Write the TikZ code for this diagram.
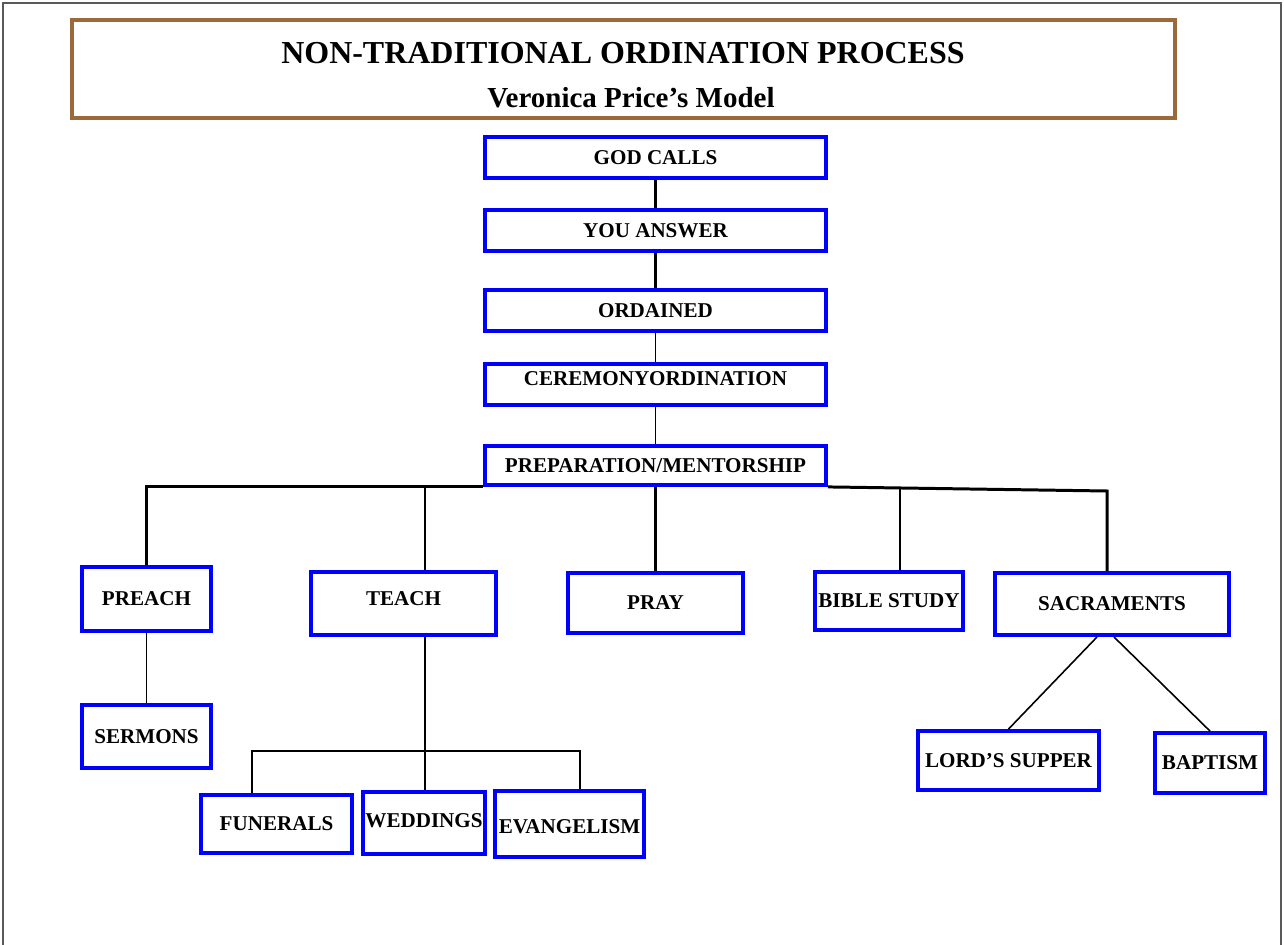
\documentclass[tikz,border=0pt]{standalone}
\usepackage{fontspec}
\setmainfont{Liberation Serif}
\begin{document}
\begin{tikzpicture}[
    x=0.02cm, y=-0.02cm,
    stagebox/.style={rectangle, draw=blue, line width=2.2pt, inner sep=0pt, text height=7.9pt, text depth=0pt, font=\bfseries\fontsize{12}{14}\selectfont},
    frametitle/.style={rectangle, draw={rgb,255:red,156;green,106;blue,58}, line width=2.3pt, inner sep=0pt},
    link/.style={draw=black, line width=0.9pt},
    boldlink/.style={draw=black, line width=1.7pt}
]
\useasboundingbox (0,0) rectangle (1284,945);

% Page frame
\draw[gray!70!black, line width=0.9pt] (3,945) -- (3,3) -- (1281,3) -- (1281,945);

% Heading
\node[frametitle, minimum width=22.06cm, minimum height=1.96cm] (head) at (623.5,69) {};
\node[font=\bfseries\fontsize{18.2}{20}\selectfont, inner sep=0pt] (headtitle) at (623,53) {NON-TRADITIONAL ORDINATION PROCESS};
\node[font=\bfseries\fontsize{16.5}{18}\selectfont, inner sep=0pt] (headsub) at (631,98) {Veronica Price’s Model};

% Main column
\node[stagebox, minimum width=6.82cm, minimum height=0.82cm] (god) at (655.5,157.5) {GOD CALLS};
\node[stagebox, minimum width=6.82cm, minimum height=0.82cm] (answer) at (655.5,230.5) {YOU ANSWER};
\node[stagebox, minimum width=6.82cm, minimum height=0.82cm] (ordained) at (655.5,310.5) {ORDAINED};
\node[stagebox, minimum width=6.82cm, minimum height=0.82cm, text depth=7pt] (ceremony) at (655.5,384.5) {CEREMONYORDINATION};
\node[stagebox, minimum width=6.82cm, minimum height=0.78cm] (prep) at (655.5,465.5) {PREPARATION/MENTORSHIP};

% Ministries
\node[stagebox, minimum width=2.58cm, minimum height=1.28cm] (preach) at (146.5,599) {PREACH};
\node[stagebox, minimum width=3.70cm, minimum height=1.26cm, text depth=6pt] (teach) at (403.5,603.5) {TEACH};
\node[stagebox, minimum width=3.50cm, minimum height=1.20cm] (pray) at (655.5,603) {PRAY};
\node[stagebox, minimum width=2.96cm, minimum height=1.16cm] (bible) at (889,601) {BIBLE STUDY};
\node[stagebox, minimum width=4.68cm, minimum height=1.24cm] (sacraments) at (1112,604) {SACRAMENTS};

% Sub-ministries
\node[stagebox, minimum width=2.58cm, minimum height=1.26cm] (sermons) at (146.5,736.5) {SERMONS};
\node[stagebox, minimum width=3.02cm, minimum height=1.16cm] (funerals) at (276.5,824) {FUNERALS};
\node[stagebox, minimum width=2.44cm, minimum height=1.24cm, text depth=3pt] (weddings) at (424,823) {WEDDINGS};
\node[stagebox, minimum width=2.98cm, minimum height=1.32cm, text height=11pt] (evangelism) at (569.5,824) {EVANGELISM};
\node[stagebox, minimum width=3.62cm, minimum height=1.18cm] (supper) at (1008.5,760.5) {LORD’S SUPPER};
\node[stagebox, minimum width=2.20cm, minimum height=1.20cm] (baptism) at (1210,763) {BAPTISM};

% Column links
\draw[boldlink] (god) -- (answer);
\draw[boldlink] (answer) -- (ordained);
\draw[link] (ordained) -- (ceremony);
\draw[link] (ceremony) -- (prep);

% Branch bar
\coordinate (teachtap) at (425,487);
\coordinate (bibletap) at (900,489);
\coordinate (sacrtap) at (1107,491);
\draw[boldlink] (preach.north) |- (prep.south west);
\draw[boldlink] (prep.south east) -- (sacrtap) -- (sacrtap |- sacraments.north);
\draw[boldlink] (prep.south) -- (pray.north);
\draw[link] (teachtap) -- (teachtap |- teach.north);
\draw[link] (bibletap) -- (bibletap |- bible.north);

% Preach and teach branches
\draw[link] (preach) -- (sermons);
\coordinate (funtap) at (252,751);
\coordinate (evantap) at (580,751);
\draw[link] (teachtap |- teach.south) -- (teachtap |- weddings.north);
\draw[link] (funtap |- funerals.north) -- (funtap) -- (evantap) -- (evantap |- evangelism.north);

% Sacraments
\coordinate (sacrleft) at (1097,637);
\coordinate (sacrright) at (1114,637);
\draw[link] (sacrleft) -- (supper.north);
\draw[link] (sacrright) -- (baptism.north);

\end{tikzpicture}
\end{document}
